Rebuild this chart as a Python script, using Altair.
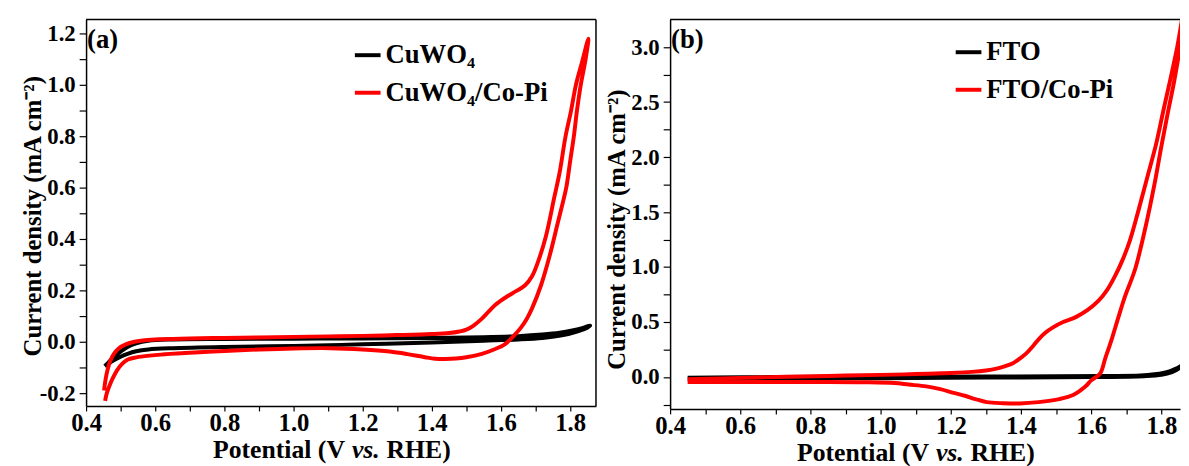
import altair as alt
import pandas as pd

FONT = "Liberation Serif"

# ---------------- Panel (a): CuWO4 vs CuWO4/Co-Pi ----------------
A_CUWO4_FWD_V = [0.454, 0.465, 0.48, 0.5, 0.52, 0.545, 0.58, 0.65, 0.8, 1.0, 1.2, 1.4, 1.55, 1.65, 1.72, 1.77, 1.81, 1.835, 1.858]
A_CUWO4_FWD_J = [-0.095, -0.08, -0.06, -0.038, -0.02, -0.006, 0.004, 0.009, 0.011, 0.012, 0.013, 0.015, 0.018, 0.022, 0.028, 0.035, 0.045, 0.053, 0.063]
A_CUWO4_REV_V = [1.85, 1.82, 1.78, 1.72, 1.65, 1.55, 1.4, 1.2, 1.0, 0.8, 0.65, 0.58, 0.545, 0.52, 0.5, 0.48, 0.465, 0.454]
A_CUWO4_REV_J = [0.055, 0.04, 0.026, 0.015, 0.009, 0.004, -0.003, -0.01, -0.016, -0.02, -0.025, -0.03, -0.037, -0.047, -0.058, -0.072, -0.085, -0.095]

A_COPI_FWD_V = [0.452, 0.456, 0.462, 0.47, 0.48, 0.495, 0.515, 0.54, 0.57, 0.62, 0.7, 0.8, 0.9, 1.0, 1.1, 1.2, 1.3, 1.4, 1.45, 1.48, 1.5, 1.52, 1.545, 1.565, 1.585, 1.6, 1.62, 1.645, 1.67, 1.69, 1.707, 1.73, 1.754, 1.77, 1.787, 1.803, 1.817, 1.835, 1.853]
A_COPI_FWD_J = [-0.19, -0.15, -0.11, -0.075, -0.048, -0.025, -0.01, 0.0, 0.006, 0.01, 0.013, 0.015, 0.017, 0.019, 0.021, 0.023, 0.026, 0.03, 0.034, 0.04, 0.047, 0.062, 0.09, 0.118, 0.145, 0.16, 0.178, 0.198, 0.22, 0.255, 0.31, 0.41, 0.56, 0.66, 0.8, 0.9, 1.0, 1.09, 1.18]
A_COPI_REV_V = [1.845, 1.831, 1.82, 1.811, 1.8, 1.789, 1.775, 1.764, 1.74, 1.716, 1.69, 1.675, 1.659, 1.635, 1.611, 1.58, 1.545, 1.5, 1.47, 1.44, 1.41, 1.38, 1.33, 1.278, 1.2, 1.107, 1.0, 0.9, 0.8, 0.7, 0.616, 0.57, 0.54, 0.521, 0.505, 0.49, 0.478, 0.468, 0.46, 0.455]
A_COPI_REV_J = [1.1, 1.0, 0.9, 0.8, 0.7, 0.6, 0.52, 0.46, 0.33, 0.22, 0.13, 0.09, 0.057, 0.02, -0.01, -0.03, -0.047, -0.06, -0.065, -0.067, -0.066, -0.06, -0.048, -0.038, -0.03, -0.025, -0.026, -0.03, -0.036, -0.043, -0.05, -0.056, -0.062, -0.069, -0.085, -0.11, -0.14, -0.17, -0.2, -0.23]

# ---------------- Panel (b): FTO vs FTO/Co-Pi ----------------
B_FTO_FWD_V = [0.45, 0.7, 1.0, 1.3, 1.5, 1.65, 1.74, 1.78, 1.805, 1.825, 1.84, 1.852, 1.862]
B_FTO_FWD_J = [-0.005, 0.0, 0.003, 0.005, 0.007, 0.01, 0.015, 0.025, 0.037, 0.055, 0.075, 0.095, 0.115]
B_FTO_REV_V = [1.85, 1.83, 1.8, 1.75, 1.6, 1.3, 1.0, 0.7, 0.45]
B_FTO_REV_J = [0.08, 0.045, 0.02, 0.008, 0.0, -0.005, -0.01, -0.014, -0.02]

B_COPI_FWD_V = [0.45, 0.55, 0.7, 0.85, 1.0, 1.1, 1.2, 1.26, 1.3, 1.33, 1.355, 1.377, 1.395, 1.415, 1.435, 1.452, 1.47, 1.49, 1.52, 1.556, 1.59, 1.621, 1.645, 1.668, 1.69, 1.711, 1.735, 1.76, 1.785, 1.805, 1.825, 1.845, 1.862]
B_COPI_FWD_J = [-0.02, -0.012, 0.0, 0.01, 0.02, 0.027, 0.037, 0.047, 0.06, 0.077, 0.1, 0.126, 0.165, 0.215, 0.285, 0.35, 0.405, 0.45, 0.5, 0.545, 0.61, 0.694, 0.79, 0.92, 1.07, 1.25, 1.52, 1.82, 2.12, 2.415, 2.7, 3.0, 3.3]
B_COPI_REV_V = [1.855, 1.837, 1.819, 1.8, 1.78, 1.753, 1.725, 1.697, 1.678, 1.659, 1.64, 1.625, 1.6, 1.584, 1.55, 1.509, 1.45, 1.396, 1.35, 1.302, 1.27, 1.24, 1.208, 1.17, 1.13, 1.08, 1.039, 0.95, 0.85, 0.7, 0.55, 0.45]
B_COPI_REV_J = [3.05, 2.7, 2.415, 2.1, 1.75, 1.34, 0.98, 0.74, 0.55, 0.35, 0.17, 0.03, -0.03, -0.083, -0.16, -0.2, -0.228, -0.24, -0.238, -0.228, -0.2, -0.17, -0.144, -0.11, -0.085, -0.068, -0.054, -0.047, -0.045, -0.045, -0.046, -0.046]

A_NAMES = ["CuWO₄", "CuWO₄/Co-Pi"]
B_NAMES = ["FTO", "FTO/Co-Pi"]
COLORS = ["#000000", "#ff0000"]

X_TICKS = [round(0.4 + 0.1 * i, 1) for i in range(15)]
A_Y_TICKS = [round(-0.2 + 0.1 * i, 1) for i in range(15)]
B_Y_TICKS = [round(-0.25 + 0.25 * i, 2) for i in range(14)]


def loop(v_fwd, j_fwd, v_rev, j_rev, name):
    v = v_fwd + v_rev
    j = j_fwd + j_rev
    return pd.DataFrame({"V": v, "J": j, "series": name, "idx": list(range(len(v)))})


def make_panel(df, names, xdom, ydom, yvals, ymult, W, H, tag, lx, ly, right_border, title_dy):
    one = pd.DataFrame({"k": [0]})
    xlab = "abs(round(datum.value*10)) % 2 == 0 ? format(datum.value, '.1f') : ''"
    ylab = ("abs(round(datum.value*%d)) %% 2 == 0 ? replace(format(datum.value, '.1f'), '\u2212', '-') : ''" % ymult)
    lines = alt.Chart(df).mark_line(strokeWidth=4, clip=True, interpolate="catmull-rom").encode(
        x=alt.X("V:Q", scale=alt.Scale(domain=xdom, nice=False, zero=False),
                axis=alt.Axis(title=None, values=X_TICKS, labelExpr=xlab, labelOverlap=False,
                              labelFlush=False, tickSize=5, labelPadding=0, labelFontSize=25,
                              grid=False)),
        y=alt.Y("J:Q", scale=alt.Scale(domain=ydom, nice=False, zero=False),
                axis=alt.Axis(title="Current density (mA cm⁻²)", values=yvals, labelExpr=ylab,
                              labelOverlap=False, labelFlush=False, tickSize=7, labelPadding=4,
                              labelFontSize=23, grid=False, titleFontSize=25,
                              titleY=H / 2 + title_dy,
                              minExtent=35, maxExtent=35, titlePadding=6)),
        color=alt.Color("series:N", scale=alt.Scale(domain=names, range=COLORS),
                        legend=alt.Legend(title=None, orient="none", legendX=lx, legendY=ly,
                                          symbolType="stroke", symbolStrokeWidth=4, symbolSize=676,
                                          labelFont=FONT, labelFontSize=27, labelFontWeight="bold",
                                          labelColor="black", labelOffset=3, rowPadding=10,
                                          padding=0, labelLimit=400)),
        order="idx:Q",
    )
    layers = [lines]
    layers.append(alt.Chart(one).mark_rule(color="black", strokeWidth=1.5).encode(
        x=alt.value(0), x2=alt.value(W), y=alt.value(0)))
    if right_border:
        layers.append(alt.Chart(one).mark_rule(color="black", strokeWidth=1.5).encode(
            x=alt.value(W), y=alt.value(0), y2=alt.value(H)))
    layers.append(alt.Chart(one).mark_text(font=FONT, fontSize=27, fontWeight="bold", align="left",
                                           baseline="alphabetic", color="black").encode(
        x=alt.value(1), y=alt.value(29), text=alt.value(tag)))
    ty = H + 53
    layers.append(alt.Chart(one).mark_text(font=FONT, fontSize=26, fontWeight="bold", align="right",
                                           baseline="alphabetic", color="black").encode(
        x=alt.value(262), y=alt.value(ty), text=alt.value("Potential (V")))
    layers.append(alt.Chart(one).mark_text(font=FONT, fontSize=26, fontWeight="bold", fontStyle="italic",
                                           align="left", baseline="alphabetic", color="black").encode(
        x=alt.value(269), y=alt.value(ty), text=alt.value("vs.")))
    layers.append(alt.Chart(one).mark_text(font=FONT, fontSize=26, fontWeight="bold", align="left",
                                           baseline="alphabetic", color="black").encode(
        x=alt.value(304), y=alt.value(ty), text=alt.value("RHE)")))
    return alt.layer(*layers).properties(width=W, height=H)


df_a = pd.concat([
    loop(A_CUWO4_FWD_V, A_CUWO4_FWD_J, A_CUWO4_REV_V, A_CUWO4_REV_J, A_NAMES[0]),
    loop(A_COPI_FWD_V, A_COPI_FWD_J, A_COPI_REV_V, A_COPI_REV_J, A_NAMES[1]),
])
df_b = pd.concat([
    loop(B_FTO_FWD_V, B_FTO_FWD_J, B_FTO_REV_V, B_FTO_REV_J, B_NAMES[0]),
    loop(B_COPI_FWD_V, B_COPI_FWD_J, B_COPI_REV_V, B_COPI_REV_J, B_NAMES[1]),
])

panel_a = make_panel(df_a, A_NAMES, [0.4, 1.875], [-0.25, 1.254], A_Y_TICKS, 10, 516, 391, "(a)", 270, 21, True, 3)
panel_b = make_panel(df_b, B_NAMES, [0.4, 1.853], [-0.29, 3.25], B_Y_TICKS, 4, 516, 394, "(b)", 287, 18, False, 15)

chart = alt.hconcat(panel_a, panel_b, spacing=8).resolve_scale(
    x="independent", y="independent", color="independent"
).resolve_legend(color="independent").properties(
    padding={"left": 13, "top": 8, "right": 0, "bottom": 0}
).configure_view(stroke=None).configure_axis(
    labelFont=FONT, labelFontWeight="bold", labelColor="black", titleFont=FONT, titleFontWeight="bold",
    titleColor="black", domainColor="black", domainWidth=1.5, tickColor="black", tickWidth=1.2
)

chart.save("out.html", embed_options={"renderer": "svg", "actions": False})
